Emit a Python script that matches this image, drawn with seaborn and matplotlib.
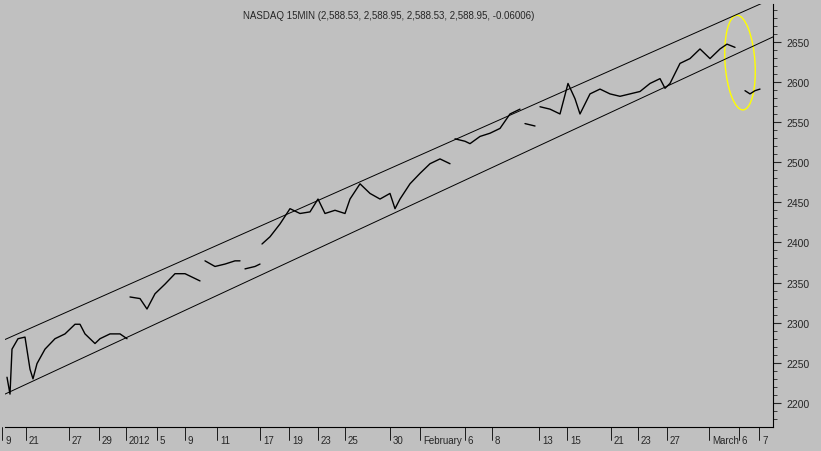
import matplotlib
matplotlib.use("Agg")
import matplotlib.pyplot as plt
from matplotlib.patches import Ellipse
import seaborn as sns
import numpy as np
import pandas as pd

sns.set_style("white")
plt.rcParams["font.family"] = ["Liberation Sans", "DejaVu Sans"]

BG = "#C0C0C0"

# bar index (15-min sessions) and close; NaN marks overnight gaps
bar = [2, 5, 7, 13, 20, 25, 28, 32, 40, 50, 60, 70, 75, 80, 90, 95, 105, 115, 122, 123,
       125, 135, 142, 150, 160, 170, 180, 190, 195, 198,
       200, 210, 220, 230, 235, 238,
       240, 250, 255, 256,
       257, 265, 275, 285, 295, 305, 313, 320, 330, 340, 345, 355, 365, 375, 385, 390,
       395, 405, 415, 425, 435, 445, 448,
       450, 460, 465, 475, 485, 495, 505, 515, 518,
       520, 530, 533,
       535, 545, 555, 563, 570, 575, 585, 595, 605, 615, 625, 635, 645, 655, 660, 665,
       675, 685, 695, 705, 715, 722, 730, 733,
       740, 745, 750, 755]
close = [2232, 2211, 2267, 2280, 2282, 2242, 2230, 2249, 2267, 2280, 2286, 2298, 2298, 2286,
         2274, 2280, 2286, 2286, 2280, np.nan,
         2332, 2330, 2317, 2336, 2348, 2361, 2361, 2355, 2352, np.nan,
         2377, 2370, 2373, 2377, 2377, np.nan,
         2367, 2370, 2373, np.nan,
         2398, 2407, 2423, 2442, 2436, 2438, 2454, 2436, 2440, 2436, 2454, 2473, 2461, 2454,
         2461, 2442,
         2454, 2473, 2486, 2498, 2504, 2498, np.nan,
         2529, 2526, 2523, 2532, 2536, 2542, 2560, 2566, np.nan,
         2548, 2545, np.nan,
         2569, 2566, 2560, 2598, 2579, 2560, 2585, 2591, 2585, 2582, 2585, 2588, 2598, 2604,
         2592, 2598,
         2623, 2629, 2641, 2629, 2641, 2647, 2643, np.nan,
         2589, 2585, 2589, 2591]

# trend channel: value at bar 0 and at bar 768
upper_ends = [2279, 2704]
lower_ends = [2211, 2656]
channel_x = [0, 768]

ticks_pos = [0, 24, 67, 97, 124, 155, 183, 215, 258, 287, 316, 343, 388, 418, 463, 490,
             537, 565, 609, 636, 665, 707, 737, 757]
ticks_lab = ["9", "21", "27", "29", "2012", "5", "9", "11", "17", "19", "23", "25", "30",
             "February", "6", "8", "13", "15", "21", "23", "27", "March", "6", "7"]

df = pd.DataFrame({"bar": bar, "close": close})
df["session"] = df["close"].isna().cumsum()
df = df.dropna()

fig = plt.figure(figsize=(8.21, 4.52), dpi=100, facecolor=BG)
ax = fig.add_axes([5 / 821, 24 / 452, 768 / 821, 423 / 452], facecolor=BG)

sns.lineplot(data=df, x="bar", y="close", units="session", color="black", lw=1.0, ax=ax,
             estimator=None, sort=False)
ax.plot(channel_x, upper_ends, color="black", lw=0.7)
ax.plot(channel_x, lower_ends, color="black", lw=0.7)
ax.add_patch(Ellipse((735, 2624), 30, 118, angle=3, fill=False,
                     edgecolor="#FFFF00", lw=1.0))

ax.set_xlim(0, 768)
ax.set_ylim(2170, 2697)
ax.set_xlabel("")
ax.set_ylabel("")
ax.yaxis.tick_right()
ax.set_yticks(range(2200, 2651, 50))
ax.set_yticks(range(2180, 2700, 10), minor=True)
ax.tick_params(axis="y", which="major", length=6, labelsize=7.5, direction="out")
ax.tick_params(axis="y", which="minor", length=3)
ax.set_xticks(ticks_pos)
ax.set_xticklabels(ticks_lab, fontsize=7, ha="left")
ax.tick_params(axis="x", length=0, pad=6)
for p in ticks_pos:
    ax.axvline(p - 3, ymin=-0.03, ymax=0, color="black", lw=0.6, clip_on=False)
for s in ["left", "top"]:
    ax.spines[s].set_visible(False)
for s in ["right", "bottom"]:
    ax.spines[s].set_color("black")
    ax.spines[s].set_linewidth(0.8)

ax.text(0.5, 0.985, "NASDAQ 15MIN (2,588.53, 2,588.95, 2,588.53, 2,588.95, -0.06006)",
        transform=ax.transAxes, ha="center", va="top", fontsize=7)

fig.savefig("out.png", dpi=100, facecolor=BG)
